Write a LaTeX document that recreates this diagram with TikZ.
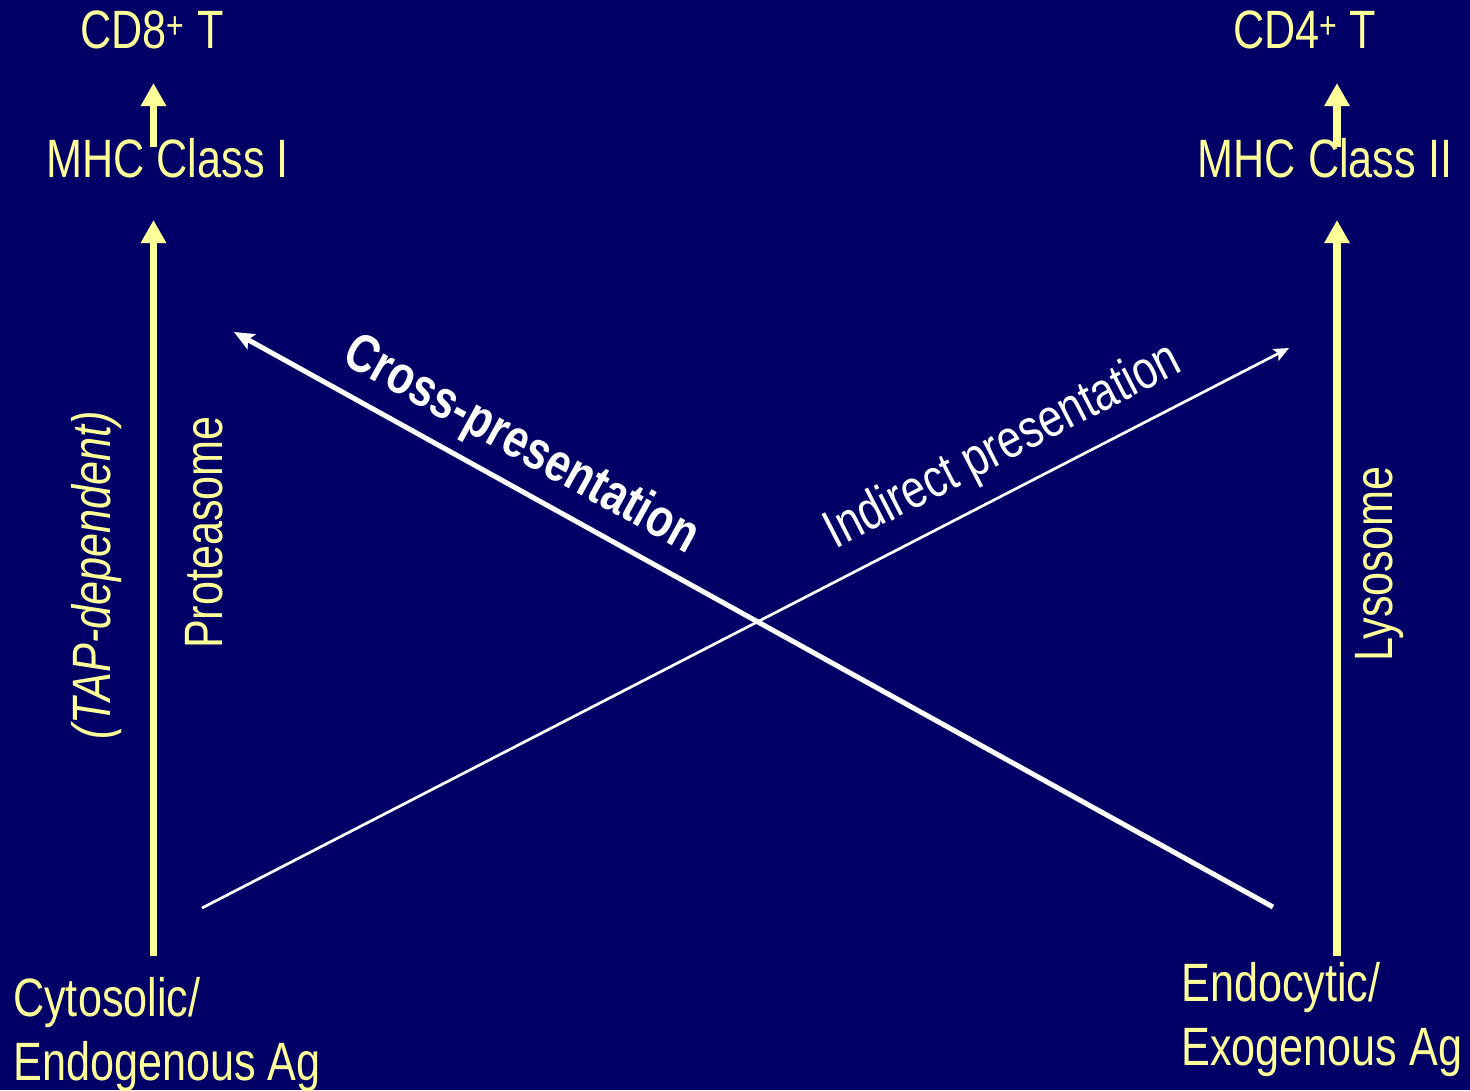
\documentclass[tikz,border=0pt]{standalone}
\usepackage{fontspec}
\setmainfont{Liberation Sans}[FakeStretch = 0.8]
\usetikzlibrary{arrows.meta}

\definecolor{slidebg}{RGB}{0,0,102}
\definecolor{paleyellow}{RGB}{255,255,153}

\begin{document}
\begin{tikzpicture}[x = 1pt, y = -1pt, font = \fontsize{54}{64}\selectfont,
	yellowtext/.style = {text = paleyellow, inner sep = 0pt, anchor = base},
	whitetext/.style = {text = white, inner sep = 0pt, anchor = base},
	yarrow/.style = {paleyellow, line width = 7.5pt, -{Triangle[length = 23pt, width = 24pt]}},
	crossarrow/.style = {white, line width = 5pt, -{Stealth[length = 20pt, width = 17pt, inset = 4pt]}},
	indirectarrow/.style = {white, line width = 2.7pt, -{Stealth[length = 15pt, width = 13pt, inset = 3pt]}}]

	% Definitions

	\def\colL{153.5}		% x of the class I column
	\def\colR{1337}			% x of the class II column

	% Background

	\fill [slidebg] (0, 0) rectangle (1470, 1090);
	\useasboundingbox (0, 0) rectangle (1470, 1090);

	% Draw labels

	\node [yellowtext] (cdeight) at (152, 48) {CD8\textsuperscript{+} T};
	\node [yellowtext] (mhcone) at (167.5, 177) {MHC Class I};
	\node [yellowtext] (cdfour) at (1304.5, 48) {CD4\textsuperscript{+} T};
	\node [yellowtext] (mhctwo) at (1325, 177) {MHC Class II};

	\node [yellowtext, anchor = base west, align = left] (cyto) at (13, 1080) {Cytosolic/\\Endogenous Ag};
	\node [yellowtext, anchor = base west, align = left] (endo) at (1181, 1065) {Endocytic/\\Exogenous Ag};

	\node [yellowtext, rotate = 90, font = \fontsize{54}{64}\selectfont\itshape] (tap) at (110, 575) {(TAP-dependent)};
	\node [yellowtext, rotate = 90] (proteasome) at (222, 532.5) {Proteasome};
	\node [yellowtext, rotate = 90] (lysosome) at (1392, 564) {Lysosome};

	\node [whitetext, rotate = -28.9, font = \fontsize{54}{64}\selectfont\bfseries] (crosslabel) at (514, 458.5) {Cross-presentation};
	\node [whitetext, rotate = 27.2] (indirectlabel) at (1010, 460) {Indirect presentation};

	% Draw arrows

	\coordinate (cytoTop) at (\colL, 956);
	\coordinate (mhcOneBelow) at (\colL, 220);
	\coordinate (mhcOneAbove) at (\colL, 147);
	\coordinate (cdEightBelow) at (\colL, 83);

	\coordinate (endoTop) at (\colR, 956);
	\coordinate (mhcTwoBelow) at (\colR, 220);
	\coordinate (mhcTwoAbove) at (\colR, 147);
	\coordinate (cdFourBelow) at (\colR, 83);

	\draw [yarrow] (cytoTop) -- (mhcOneBelow);
	\draw [yarrow] (mhcOneAbove) -- (cdEightBelow);
	\draw [yarrow] (endoTop) -- (mhcTwoBelow);
	\draw [yarrow] (mhcTwoAbove) -- (cdFourBelow);

	\coordinate (crossStart) at (1273, 907);
	\coordinate (crossEnd) at (234, 332);
	\coordinate (indirectStart) at (202, 908);
	\coordinate (indirectEnd) at (1289, 348);

	\draw [crossarrow] (crossStart) -- (crossEnd);
	\draw [indirectarrow] (indirectStart) -- (indirectEnd);

\end{tikzpicture}
\end{document}
